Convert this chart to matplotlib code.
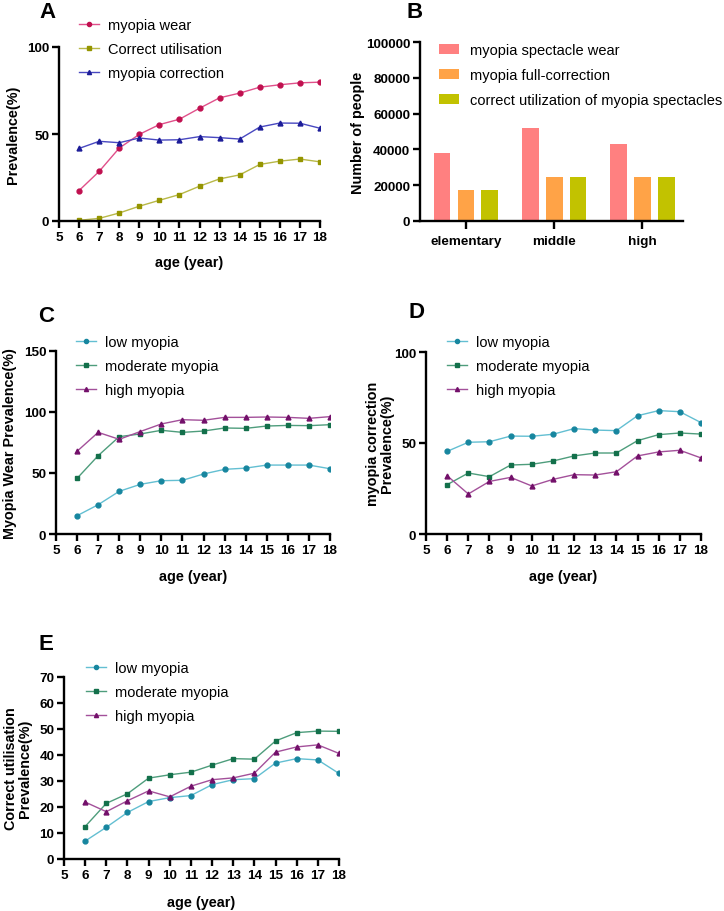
import matplotlib
matplotlib.use('Agg')
import matplotlib.pyplot as plt

plt.rcParams['font.family'] = ['Liberation Sans', 'DejaVu Sans']

# ages shared by the line panels
ages = [6, 7, 8, 9, 10, 11, 12, 13, 14, 15, 16, 17, 18]

# panel A
a_wear = [17.5, 28.5, 41.9, 49.8, 55.4, 58.5, 64.8, 70.8, 73.5, 76.9, 78.3, 79.4, 79.8]
a_util = [0.4, 1.5, 4.6, 8.5, 11.9, 15.2, 20.0, 24.2, 26.5, 32.5, 34.4, 35.6, 34.0]
a_corr = [41.7, 45.8, 45.0, 47.7, 46.5, 46.7, 48.5, 47.9, 47.1, 54.0, 56.3, 56.2, 53.3]

# panel B
schools = ['elementary', 'middle', 'high']
b_wear = [38000, 51700, 43200]
b_full = [17400, 24600, 24600]
b_util = [17400, 24600, 24600]

# panel C (myopia wear by grade)
c_low = [15.0, 24.0, 35.0, 40.7, 43.7, 44.0, 49.2, 53.0, 54.0, 56.5, 56.5, 56.5, 53.5]
c_mod = [45.6, 64.2, 79.8, 82.0, 85.0, 83.3, 84.4, 86.9, 86.6, 88.5, 89.0, 88.8, 89.6]
c_high = [67.8, 83.3, 77.6, 84.0, 90.2, 93.7, 93.2, 95.6, 95.6, 95.9, 95.6, 94.8, 96.2]

# panel D (myopia correction by grade)
d_low = [45.4, 50.4, 50.7, 53.8, 53.7, 54.8, 57.9, 57.1, 56.8, 65.0, 67.8, 67.2, 61.2]
d_mod = [27.1, 33.5, 31.5, 37.9, 38.3, 40.1, 42.9, 44.5, 44.5, 51.3, 54.6, 55.5, 54.9]
d_high = [32.0, 22.0, 28.9, 31.1, 26.4, 30.0, 32.6, 32.4, 34.2, 42.9, 45.1, 46.0, 41.8]

# panel E (correct utilisation by grade)
e_low = [6.9, 12.2, 17.9, 22.1, 23.6, 24.4, 28.6, 30.5, 30.9, 36.9, 38.6, 38.1, 32.9]
e_mod = [12.5, 21.4, 25.1, 31.1, 32.4, 33.4, 36.1, 38.6, 38.4, 45.4, 48.6, 49.2, 49.1]
e_high = [21.9, 18.2, 22.4, 26.2, 23.9, 28.0, 30.5, 31.2, 33.0, 41.1, 43.1, 43.9, 40.6]

W, H = 724, 912
TICK_FS = 9.7
LABEL_FS = 10.4
LEG_FS = 10.5
fig = plt.figure(figsize=(W / 100, H / 100), dpi=100)


def make_ax(left, right, top, bottom):
    return fig.add_axes([left / W, 1 - bottom / H, (right - left) / W, (bottom - top) / H])


def style_ax(ax):
    for s in ['top', 'right']:
        ax.spines[s].set_visible(False)
    for s in ['left', 'bottom']:
        ax.spines[s].set_linewidth(1.7)
    ax.tick_params(axis='both', direction='out', length=5, width=1.7, pad=2,
                   labelsize=TICK_FS)
    for lab in ax.get_xticklabels() + ax.get_yticklabels():
        lab.set_fontweight('bold')


def age_axis(ax):
    ax.set_xlim(5, 18)
    ax.set_xticks(range(5, 19))
    ax.set_xticklabels([str(i) for i in range(5, 19)])
    ax.xaxis.get_major_ticks()[0].set_pad(5)
    ax.set_xlabel('age (year)', fontsize=LABEL_FS, fontweight='bold', va='center')


def line_legend(ax, x, y):
    ax.legend(loc='upper left', bbox_to_anchor=(x / W, 1 - y / H),
              bbox_transform=fig.transFigure, frameon=False, fontsize=LEG_FS,
              borderpad=0, borderaxespad=0, handlelength=1.4,
              handletextpad=0.6, labelspacing=0.68, markerscale=0.85)


def grade_lines(ax, low, mod, high):
    ax.plot(ages, low, color='#63bfd2', lw=1, marker='o', ms=3.5,
            mfc='#17869f', mec='#17869f', label='low myopia')
    ax.plot(ages, mod, color='#4e9d7c', lw=1, marker='s', ms=3.5,
            mfc='#13704b', mec='#13704b', label='moderate myopia')
    ax.plot(ages, high, color='#a3509a', lw=1, marker='^', ms=3.5,
            mfc='#73106a', mec='#73106a', label='high myopia')


def panel_letter(x, y, s):
    fig.text(x / W, 1 - y / H, s, fontsize=16, fontweight='bold', ha='center', va='center')


# ---------------- A ----------------
axA = make_ax(59, 320, 48, 222)
axA.plot(ages, a_wear, color='#e0508a', lw=1, marker='o', ms=3.5,
         mfc='#c0104f', mec='#c0104f', label='myopia wear')
axA.plot(ages, a_util, color='#b8b848', lw=1, marker='s', ms=3.5,
         mfc='#959500', mec='#959500', label='Correct utilisation')
axA.plot(ages, a_corr, color='#4848c0', lw=1, marker='^', ms=3.5,
         mfc='#1c1c98', mec='#1c1c98', label='myopia correction')
axA.set_ylim(0, 100)
axA.set_yticks([0, 50, 100])
age_axis(axA)
axA.set_ylabel('Prevalence(%)', fontsize=LABEL_FS, fontweight='bold', va='center')
axA.yaxis.set_label_coords((13 - 59) / 261, 0.5)
axA.xaxis.set_label_coords(0.5, -(263 - 222) / 174)
style_ax(axA)
line_legend(axA, 79, 19)
panel_letter(47, 13, 'A')

# ---------------- B ----------------
axB = make_ax(420, 683, 43, 222)
pos = list(range(len(schools)))
off, bw = 0.27, 0.19
axB.bar([p - off for p in pos], b_wear, width=bw, color='#ff8080', label='myopia spectacle wear')
axB.bar(pos, b_full, width=bw, color='#ffa347', label='myopia full-correction')
axB.bar([p + off for p in pos], b_util, width=bw, color='#c2c200',
        label='correct utilization of myopia spectacles')
axB.set_xlim(-0.52, 2.46)
axB.set_ylim(0, 100000)
axB.set_yticks(range(0, 100001, 20000))
axB.set_xticks(pos)
axB.set_xticklabels(schools)
axB.set_ylabel('Number of people', fontsize=LABEL_FS, fontweight='bold', va='center')
axB.yaxis.set_label_coords((358 - 420) / 263, 0.5)
style_ax(axB)
axB.tick_params(axis='x', length=6, pad=4)
axB.legend(loc='upper left', bbox_to_anchor=(439 / W, 1 - 44 / H),
           bbox_transform=fig.transFigure, frameon=False, fontsize=LEG_FS,
           borderpad=0, borderaxespad=0, handlelength=1.4, handleheight=0.7,
           handletextpad=0.7, labelspacing=0.75)
panel_letter(415, 13, 'B')

# ---------------- C ----------------
axC = make_ax(56, 330, 352, 535)
grade_lines(axC, c_low, c_mod, c_high)
axC.set_ylim(0, 150)
axC.set_yticks([0, 50, 100, 150])
age_axis(axC)
axC.set_ylabel('Myopia Wear Prevalence(%)', fontsize=LABEL_FS, fontweight='bold', va='center')
axC.yaxis.set_label_coords((10 - 56) / 274, 0.5)
axC.xaxis.set_label_coords(0.5, -(577 - 535) / 183)
style_ax(axC)
line_legend(axC, 76, 336)
panel_letter(46, 316, 'C')

# ---------------- D ----------------
axD = make_ax(426, 701, 353, 535)
grade_lines(axD, d_low, d_mod, d_high)
axD.set_ylim(0, 100)
axD.set_yticks([0, 50, 100])
age_axis(axD)
axD.set_ylabel('myopia correction\nPrevalence(%)', fontsize=LABEL_FS, fontweight='bold',
               va='center', linespacing=1.05)
axD.yaxis.set_label_coords((380 - 426) / 275, 0.5)
axD.xaxis.set_label_coords(0.5, -(577 - 535) / 182)
style_ax(axD)
line_legend(axD, 447, 336)
panel_letter(417, 313, 'D')

# ---------------- E ----------------
axE = make_ax(64, 339, 678, 860)
grade_lines(axE, e_low, e_mod, e_high)
axE.set_ylim(0, 70)
axE.set_yticks(range(0, 71, 10))
age_axis(axE)
axE.set_ylabel('Correct utilisation\nPrevalence(%)', fontsize=LABEL_FS, fontweight='bold',
               va='center', linespacing=1.05)
axE.yaxis.set_label_coords((18 - 64) / 275, 0.5)
axE.xaxis.set_label_coords(0.5, -(903 - 860) / 182)
style_ax(axE)
line_legend(axE, 86, 662)
panel_letter(46, 645, 'E')

fig.savefig('out.png', dpi=100, facecolor='white')
